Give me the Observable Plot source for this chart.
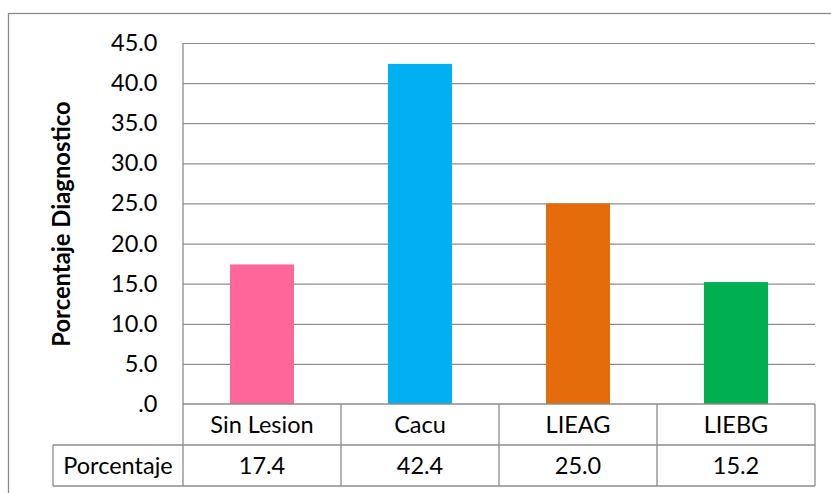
<!DOCTYPE html>
<html>
<head>
<meta charset="utf-8">
<script src="https://cdn.jsdelivr.net/npm/d3@7"></script>
<script src="https://cdn.jsdelivr.net/npm/@observablehq/plot@0.6"></script>
<style>
  html, body { margin: 0; padding: 0; background: #fff; }
  #chart { position: relative; width: 831px; height: 493px; overflow: hidden; }
</style>
</head>
<body>
<div id="chart"></div>
<script>
// Diagnosis categories and their percentages
const categories = ["Sin Lesion", "Cacu", "LIEAG", "LIEBG"];
const values = [17.4, 42.4, 25.0, 15.2];
const barColors = ["#FF6699", "#00B0F0", "#E46C0A", "#00B050"];
const yTicks = [0, 5, 10, 15, 20, 25, 30, 35, 40, 45];
const yTitle = "Porcentaje Diagnostico";
const rowLabel = "Porcentaje";

const data = categories.map((c, i) => ({category: c, value: values[i]}));
const fmt = d => d === 0 ? ".0" : d.toFixed(1);
const gray = "#8c8c8c";
const fontSize = 23.5;

const W = 831, H = 493;
const mL = 183, mR = 16, mT = 43, mB = 89;

const plot = Plot.plot({
  width: W,
  height: H,
  marginLeft: mL,
  marginRight: mR,
  marginTop: mT,
  marginBottom: mB,
  style: {fontFamily: "Lato, 'Open Sans', sans-serif", fontSize: `${fontSize}px`, color: "#000", background: "#fff"},
  x: {domain: categories, paddingInner: 0.595, paddingOuter: 0.2975, axis: null},
  y: {domain: [0, 45], axis: null},
  color: {domain: categories, range: barColors},
  marks: [
    Plot.gridY(yTicks.filter(d => d > 0), {stroke: gray, strokeOpacity: 1, strokeWidth: 1.2}),
    Plot.axisY(yTicks, {tickSize: 0, tickPadding: 26, tickFormat: fmt, fontSize, label: null}),
    Plot.barY(data, {x: "category", y: "value", fill: "category"}),
    Plot.text([yTitle], {frameAnchor: "left", textAnchor: "middle", rotate: -90, dx: -121, fontWeight: "bold", fontSize: 23.8})
  ]
});

document.getElementById("chart").appendChild(plot);

// Data table below the bars, laid out from the plot's own scales
const xs = plot.scale("x");
const ys = plot.scale("y");
const svg = d3.select(plot);
const step = xs.step;
const half = step / 2;
const centers = categories.map(c => xs.apply(c) + xs.bandwidth / 2);
const left = centers[0] - half;
const right = centers[centers.length - 1] + half;
const y0 = ys.apply(0);
const yTop = ys.apply(45);
const rowH = 41;
const labelLeft = 53;

const g = svg.append("g").attr("stroke", gray).attr("stroke-width", 1.3).attr("fill", "none");
// horizontal table lines
g.append("line").attr("x1", left).attr("x2", right).attr("y1", y0).attr("y2", y0);
g.append("line").attr("x1", labelLeft).attr("x2", right).attr("y1", y0 + rowH).attr("y2", y0 + rowH);
g.append("line").attr("x1", labelLeft).attr("x2", right).attr("y1", y0 + 2 * rowH).attr("y2", y0 + 2 * rowH);
// value axis line running down into the table
g.append("line").attr("x1", left).attr("x2", left).attr("y1", yTop).attr("y2", y0 + 2 * rowH);
// column separators
centers.forEach(c => {
  g.append("line").attr("x1", c + half).attr("x2", c + half).attr("y1", y0).attr("y2", y0 + 2 * rowH);
});
g.append("line").attr("x1", labelLeft).attr("x2", labelLeft).attr("y1", y0 + rowH).attr("y2", y0 + 2 * rowH);

const t = svg.append("g").attr("font-size", fontSize).attr("fill", "#000").attr("text-anchor", "middle");
categories.forEach((c, i) => {
  t.append("text").attr("x", centers[i]).attr("y", y0 + rowH / 2).attr("dy", "0.35em").text(c);
  t.append("text").attr("x", centers[i]).attr("y", y0 + rowH * 1.5).attr("dy", "0.35em").text(values[i].toFixed(1));
});
t.append("text").attr("x", (labelLeft + left) / 2).attr("y", y0 + rowH * 1.5).attr("dy", "0.35em").text(rowLabel);

// chart border
svg.append("rect").attr("x", 8.5).attr("y", 13.5).attr("width", 900).attr("height", 600)
  .attr("fill", "none").attr("stroke", gray).attr("stroke-width", 1.3);
</script>
</body>
</html>
